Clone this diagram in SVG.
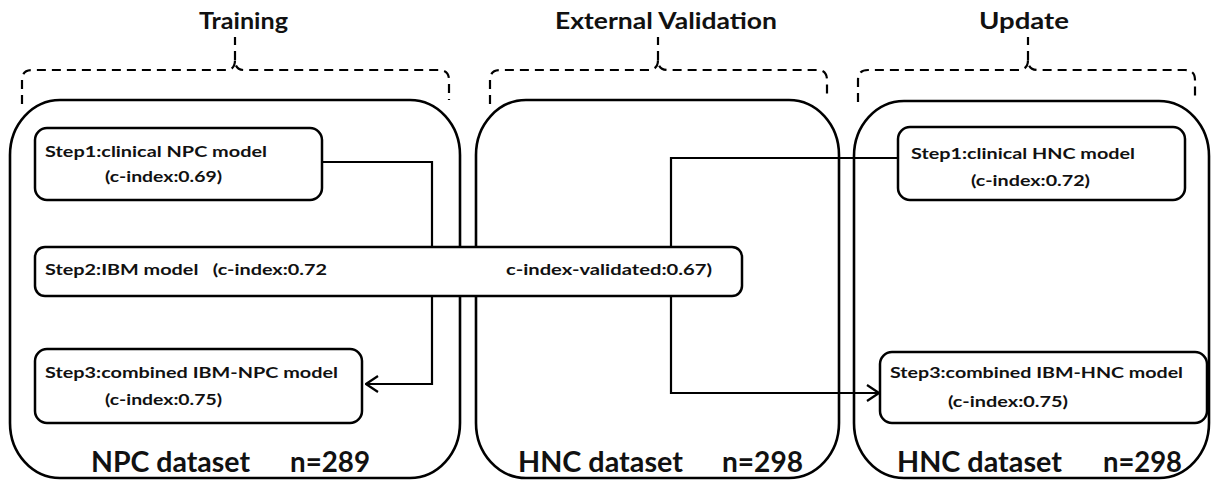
<svg xmlns="http://www.w3.org/2000/svg" width="1211" height="483" viewBox="0 0 1211 483">
<style>
.panel{fill:#fff;stroke:#000;stroke-width:2.6}
.box{fill:#fff;stroke:#000;stroke-width:2.5}
.brace{fill:none;stroke:#000;stroke-width:2.2;stroke-dasharray:9 6}
.conn{fill:none;stroke:#000;stroke-width:2.2}
text{font-family:Lato,"Open Sans","Liberation Sans",sans-serif;font-weight:700;fill:#111}
.t{font-size:22px}
.s{font-size:15px}
.d{font-size:28px}
</style>
<defs>
<marker id="arr" viewBox="0 0 14 18" refX="13" refY="9" markerWidth="14" markerHeight="18" markerUnits="userSpaceOnUse" orient="auto">
<path d="M1,1 L13,9 L1,17" fill="none" stroke="#000" stroke-width="2.2"/>
</marker>
</defs>
<rect width="1211" height="483" fill="#fff"/>
<g id="training-header">
<text class="t" x="199" y="29" textLength="89" lengthAdjust="spacingAndGlyphs">Training</text>
<path class="brace" d="M22,104 V80 Q22,70 32,70 H226 Q235,70 235,60 Q235,70 244,70 H439 Q449,70 449,80 V100 M235,60 V37"/>
</g>
<g id="validation-header">
<text class="t" x="555" y="29" textLength="222" lengthAdjust="spacingAndGlyphs">External Validation</text>
<path class="brace" d="M490,104 V80 Q490,70 500,70 H648 Q658,70 658,60 Q658,70 668,70 H817 Q827,70 827,80 V98 M658,60 V37"/>
</g>
<g id="update-header">
<text class="t" x="979" y="29" textLength="90" lengthAdjust="spacingAndGlyphs">Update</text>
<path class="brace" d="M858,102 V80 Q858,70 868,70 H1018 Q1028,70 1028,60 Q1028,70 1038,70 H1185 Q1195,70 1195,80 V96 M1028,60 V37"/>
</g>
<g id="panel-npc">
<rect class="panel" x="10" y="100" width="450" height="378" rx="50" ry="55"/>
<text class="d" y="472"><tspan x="91" textLength="159" lengthAdjust="spacingAndGlyphs">NPC dataset</tspan><tspan x="290" textLength="80" lengthAdjust="spacingAndGlyphs">n=289</tspan></text>
</g>
<g id="panel-hnc-validation">
<rect class="panel" x="476" y="100" width="363" height="378" rx="50" ry="55"/>
<text class="d" y="472"><tspan x="518" textLength="165" lengthAdjust="spacingAndGlyphs">HNC dataset</tspan><tspan x="722" textLength="81" lengthAdjust="spacingAndGlyphs">n=298</tspan></text>
</g>
<g id="panel-hnc-update">
<rect class="panel" x="854" y="101" width="355" height="377" rx="50" ry="55"/>
<text class="d" y="472"><tspan x="897" textLength="165" lengthAdjust="spacingAndGlyphs">HNC dataset</tspan><tspan x="1103" textLength="79" lengthAdjust="spacingAndGlyphs">n=298</tspan></text>
</g>
<g id="connectors">
<path class="conn" d="M322,162 H432 V384 H366" marker-end="url(#arr)"/>
<path class="conn" d="M898,158 H671 V393 H879" marker-end="url(#arr)"/>
</g>
<g id="step1-npc">
<rect class="box" x="35" y="128" width="287" height="72" rx="12"/>
<text class="s" x="45" y="157" textLength="222" lengthAdjust="spacingAndGlyphs">Step1:clinical NPC model</text>
<text class="s" x="105" y="182" textLength="117" lengthAdjust="spacingAndGlyphs">(c-index:0.69)</text>
</g>
<g id="step2-ibm">
<rect class="box" x="35" y="247" width="707" height="49" rx="10"/>
<text class="s" x="45" y="275" textLength="282" lengthAdjust="spacingAndGlyphs" xml:space="preserve">Step2:IBM model   (c-index:0.72</text>
<text class="s" x="506" y="275" textLength="206" lengthAdjust="spacingAndGlyphs">c-index-validated:0.67)</text>
</g>
<g id="step3-npc">
<rect class="box" x="35" y="349" width="327" height="74" rx="12"/>
<text class="s" x="45" y="378" textLength="293" lengthAdjust="spacingAndGlyphs">Step3:combined IBM-NPC model</text>
<text class="s" x="105" y="405" textLength="117" lengthAdjust="spacingAndGlyphs">(c-index:0.75)</text>
</g>
<g id="step1-hnc">
<rect class="box" x="898" y="127" width="287" height="73" rx="12"/>
<text class="s" x="911" y="159" textLength="224" lengthAdjust="spacingAndGlyphs">Step1:clinical HNC model</text>
<text class="s" x="971" y="186" textLength="119" lengthAdjust="spacingAndGlyphs">(c-index:0.72)</text>
</g>
<g id="step3-hnc">
<rect class="box" x="880" y="352" width="327" height="71" rx="12"/>
<text class="s" x="890" y="378" textLength="293" lengthAdjust="spacingAndGlyphs">Step3:combined IBM-HNC model</text>
<text class="s" x="948" y="407" textLength="120" lengthAdjust="spacingAndGlyphs">(c-index:0.75)</text>
</g>
</svg>
